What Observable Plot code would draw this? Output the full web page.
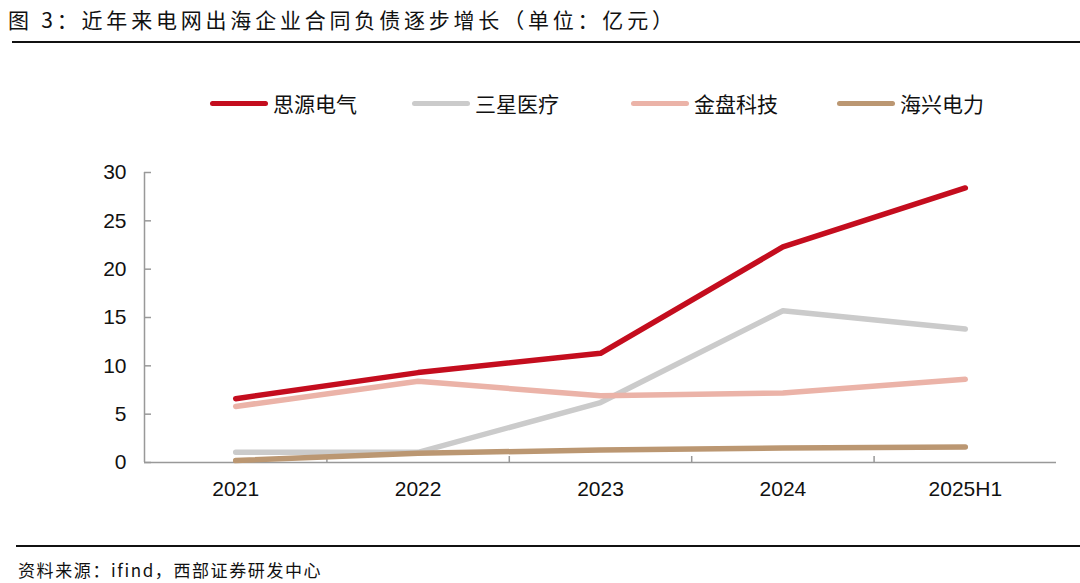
<!DOCTYPE html>
<html><head><meta charset="utf-8">
<script src="https://cdn.jsdelivr.net/npm/d3@7"></script>
<script src="https://cdn.jsdelivr.net/npm/@observablehq/plot@0.6"></script>
<style>
body{margin:0;background:#fff;width:1080px;height:583px;position:relative;overflow:hidden;font-family:"Liberation Sans",Arial,sans-serif;}
#title{position:absolute;left:8px;top:4px;font-family:"Noto Sans CJK SC";font-size:21px;color:#111;letter-spacing:3.8px;}
#tline{position:absolute;left:12px;right:0;top:41px;height:2px;background:#111;}
#legend{position:absolute;top:89px;left:0;width:1080px;height:28px;}
.li{position:absolute;top:0;height:28px;display:flex;align-items:center;font-family:"Noto Sans CJK SC";font-size:21px;color:#111;}
.sw{width:58px;height:5px;border-radius:3px;margin-right:5px;}
#chart{position:absolute;left:0;top:44px;}
#fline{position:absolute;left:16px;right:0;top:545px;height:2px;background:#111;}
#foot{position:absolute;left:18px;top:557px;font-family:"Noto Sans CJK SC";font-size:17px;color:#111;letter-spacing:1.6px;}
</style></head>
<body>
<div id="title">图 3：近年来电网出海企业合同负债逐步增长（单位：亿元）</div>
<div id="tline"></div>
<div id="legend"></div>
<div id="chart"></div>
<div id="fline"></div>
<div id="foot">资料来源：ifind，西部证券研发中心</div>
<script>
const categories = ["2021","2022","2023","2024","2025H1"];
const seriesNames = ["思源电气","三星医疗","金盘科技","海兴电力"];
const siyuan = [6.6, 9.3, 11.3, 22.3, 28.4];
const sanxing = [1.05, 1.05, 6.2, 15.7, 13.8];
const jinpan = [5.8, 8.4, 6.9, 7.2, 8.6];
const haixing = [0.2, 0.95, 1.3, 1.5, 1.6];
const colors = ["#c40d1e","#cbcbcb","#ebb3a8","#bb9772"];
const yTicks = [0,5,10,15,20,25,30];

const seriesValues = [siyuan, sanxing, jinpan, haixing];
const rows = [];
seriesNames.forEach((s, si) => seriesValues[si].forEach((v, i) => rows.push({series: s, xi: i, value: v})));
const drawOrder = ["三星医疗","金盘科技","海兴电力","思源电气"];

// legend
const legendX = [210, 412, 631, 837];
const lg = document.getElementById("legend");
seriesNames.forEach((s, i) => {
  const d = document.createElement("div");
  d.className = "li"; d.style.left = legendX[i] + "px";
  d.innerHTML = `<div class="sw" style="background:${colors[i]}"></div><span>${s}</span>`;
  lg.appendChild(d);
});

const boundaries = categories.slice(1).map((c, i) => i + 0.5);

const plot = Plot.plot({
  width: 1080, height: 500,
  marginLeft: 144, marginRight: 24, marginTop: 128, marginBottom: 82,
  style: {fontFamily: "Liberation Sans, Arial, sans-serif", fontSize: "21px", color: "#111", background: "transparent"},
  x: {type: "linear", domain: [-0.5, categories.length - 0.5]},
  y: {domain: [0, 30]},
  color: {domain: seriesNames, range: colors},
  marks: [
    Plot.axisY({ticks: yTicks, tickSize: -7, tickPadding: 25, stroke: "#999", strokeWidth: 1.5, label: null, fontSize: 21}),
    Plot.axisX({ticks: boundaries, tickSize: -6, tickPadding: 0, tickFormat: () => "", stroke: "#999", strokeWidth: 1.5, label: null}),
    Plot.axisX({ticks: categories.map((c, i) => i), tickSize: 0, tickPadding: 19, tickFormat: i => categories[i], label: null, fontSize: 21}),
    Plot.ruleX([-0.5], {stroke: "#999", strokeWidth: 1.5}),
    Plot.ruleY([0], {stroke: "#999", strokeWidth: 1.5}),
    ...drawOrder.map(s => Plot.line(rows.filter(r => r.series === s), {
      x: "xi", y: "value", stroke: "series", strokeWidth: 5.5, strokeLinecap: "round", strokeLinejoin: "round"
    }))
  ]
});
document.getElementById("chart").appendChild(plot);
</script>
</body></html>
